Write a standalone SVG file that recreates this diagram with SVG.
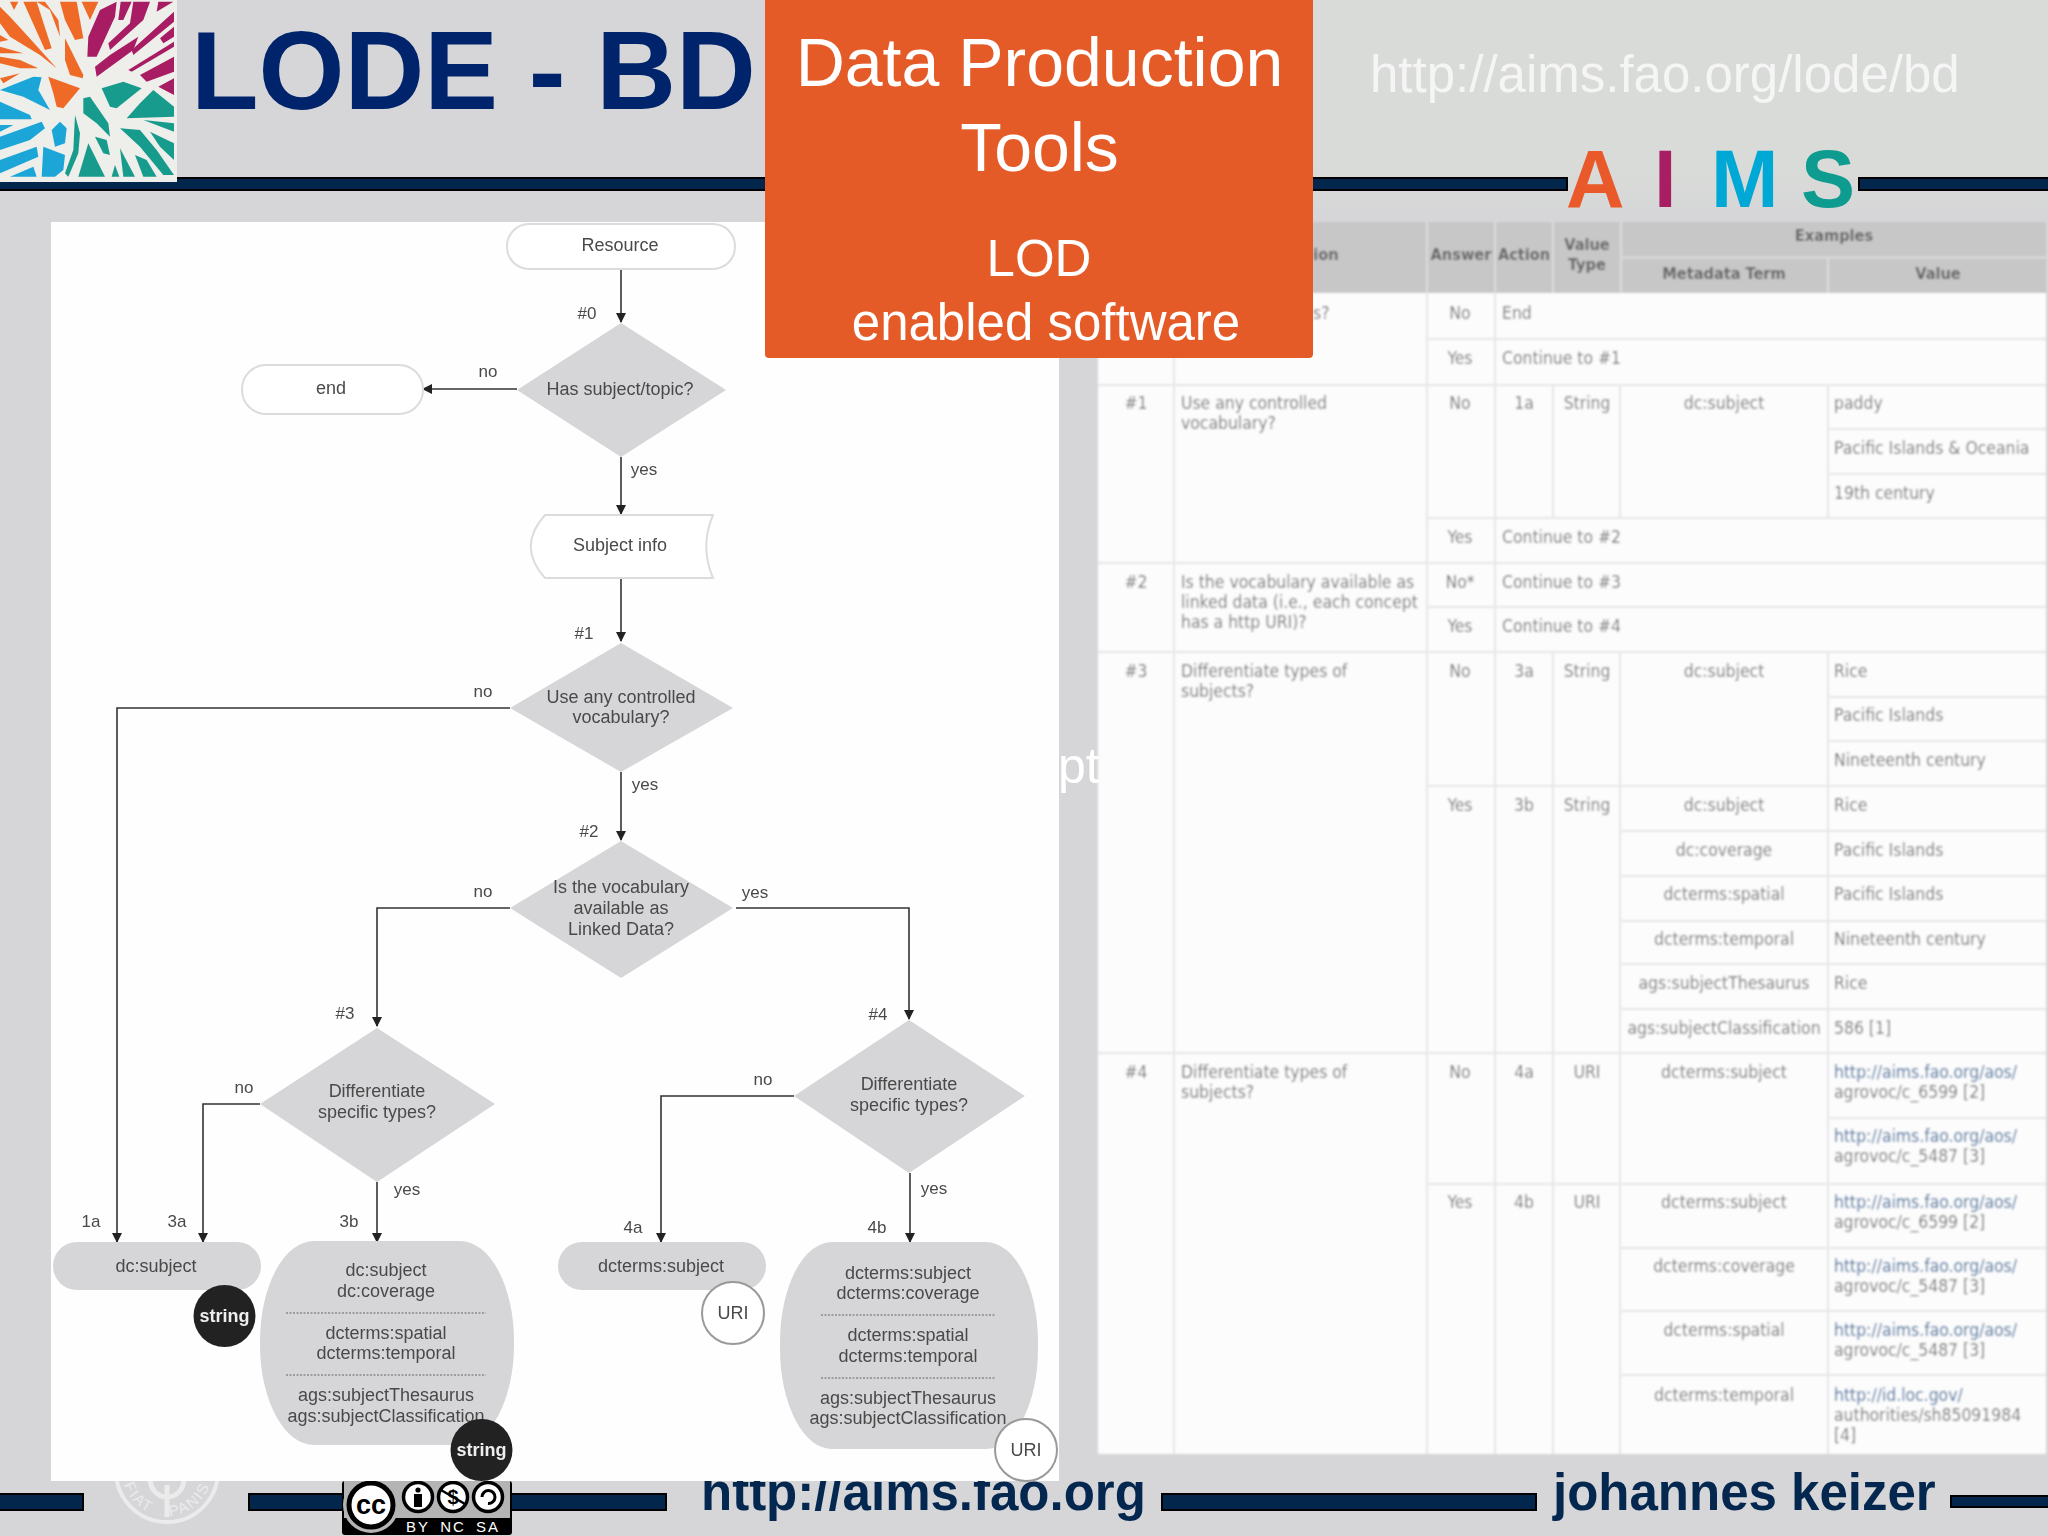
<svg xmlns="http://www.w3.org/2000/svg" width="2048" height="1536" viewBox="0 0 2048 1536">
<defs>
<marker id="ah" markerUnits="userSpaceOnUse" markerWidth="10" markerHeight="12" refX="9" refY="5" orient="auto"><path d="M0,0L10,5L0,10Z" fill="#222"/></marker>
<filter id="soft" x="-2%" y="-2%" width="104%" height="104%"><feGaussianBlur stdDeviation="0.6"/></filter>
<filter id="soft2" x="-2%" y="-2%" width="104%" height="104%"><feGaussianBlur stdDeviation="0.8"/></filter>
<linearGradient id="topbg" x1="0" y1="0" x2="0" y2="1"><stop offset="0" stop-color="#d9dbd8"/><stop offset=".8" stop-color="#d9dbd8"/><stop offset="1" stop-color="#d6d6d8"/></linearGradient>
<path id="ringp" d="M122,1471A45,45 0 0 0 212,1471"/>
</defs>
<style>
text{font-family:"Liberation Sans",Arial,sans-serif}
.bar{fill:#03274c;stroke:#000;stroke-width:2}
.big{fill:#fff;text-anchor:middle}
.foot{fill:#03274f;font-weight:700;font-size:51px}
.ft{font-size:18px;fill:#4a4a4a;text-anchor:middle}
.fl{font-size:17px;fill:#4a4a4a;text-anchor:middle}
.dia{fill:#d6d6d8}
.term{fill:#fff;stroke:#dcdcde;stroke-width:2}
.grey{fill:#d6d6d8}
.sep{stroke:#8a8a8a;stroke-width:1.5;stroke-dasharray:2 1.5;fill:none}
.conn{fill:none;stroke:#333;stroke-width:1.6;marker-end:url(#ah)}
.tl{fill:none;stroke:#e6e6e8;stroke-width:2}
.t{font-family:"DejaVu Sans Condensed","DejaVu Sans",sans-serif;font-size:17.400px;fill:#767676}
.c{text-anchor:middle}
.h{font-family:"DejaVu Sans Condensed","DejaVu Sans",sans-serif;font-size:16.200px;fill:#666;font-weight:700;text-anchor:middle}
.u{fill:#3d6c9a}
.or{fill:#ef6a26}.ma{fill:#a81c63}.te{fill:#179b8c}.bl{fill:#1aa6d8}
</style>
<rect width="2048" height="1536" fill="#d6d6d8"/>
<rect x="1313" width="735" height="215" fill="url(#topbg)"/>

<g id="header-bars">
<rect class="bar" x="-2" y="178" width="770" height="12"/>
<rect class="bar" x="1310" y="178" width="257" height="12"/>
<rect class="bar" x="1859" y="178" width="192" height="12"/>
</g>
<g id="logo">
<rect x="0" y="0" width="177" height="182" fill="#eeeeea"/>
<g transform="scale(.3333)" filter="url(#soft2)">
<g class="or">
<polygon points="30,5 55,5 42,30"/><polygon points="70,5 110,5 155,145 135,150"/><polygon points="110,5 135,5 175,60 180,110 150,30"/><polygon points="180,5 230,5 250,115 225,120 195,60"/><polygon points="245,5 295,5 270,60"/><polygon points="0,20 30,50 85,110 170,205 120,165 30,110 0,70"/><polygon points="0,105 25,120 0,125"/><polygon points="0,140 70,160 0,160"/><polygon points="0,170 60,180 115,205 60,205 0,190"/><polygon points="195,115 250,225 248,235 210,225 195,180"/><polygon points="0,235 60,220 10,250"/><polygon points="145,230 240,265 190,325 170,320 160,280"/>
</g>
<g class="ma">
<polygon points="300,30 350,5 345,50 290,170 262,170 265,110"/><polygon points="362,5 395,5 370,60 355,60"/><polygon points="400,5 450,5 430,60 330,150 325,130 390,70"/><polygon points="475,5 520,5 470,35"/><polygon points="522,35 522,65 400,165 395,150"/><polygon points="522,80 522,110 490,130 480,115"/><polygon points="522,125 522,140 395,215 385,210"/><polygon points="522,170 522,215 440,245 420,225"/><polygon points="522,235 522,285 475,260"/><polygon points="415,110 400,150 290,230 285,200 330,165"/>
</g>
<g class="te">
<polygon points="305,265 370,245 425,265 350,325 330,320"/><polygon points="460,270 522,320 522,350 380,355 420,310"/><polygon points="430,360 522,370 522,395"/><polygon points="450,395 522,430 522,480 480,440"/><polygon points="250,295 270,290 325,370 330,410 290,370 250,340"/><polygon points="285,410 320,420 330,465 310,460"/><polygon points="360,385 420,390 470,450 522,525 490,525 420,440"/><polygon points="360,445 405,530 370,530"/><polygon points="405,465 440,480 470,530 430,530"/><polygon points="265,430 315,530 235,530"/><polygon points="345,495 358,530 335,530"/><polygon points="225,345 240,400 235,460 205,530 195,520 220,450"/>
</g>
<g class="bl">
<polygon points="0,270 100,230 125,232 115,270 150,330 70,290"/><polygon points="0,305 90,345 95,358 0,358"/><polygon points="0,375 40,375 0,395"/><polygon points="0,410 125,365 135,385 90,420 0,450"/><polygon points="0,480 110,440 115,470 0,520"/><polygon points="30,530 100,500 110,530"/><polygon points="130,440 195,465 190,510 165,530 125,530"/><polygon points="155,390 180,365 200,385 195,430 165,440"/>
</g>
</g>
</g>
<text id="title" x="191" y="109" font-size="110.500" font-weight="700" fill="#00246b">LODE - BD</text>
<text id="top-url" x="1370" y="92" font-size="51" fill="#f4f5f4">http://aims.fao.org/lode/bd</text>
<g id="aims" font-size="81" font-weight="700">
<text x="1566" y="207" fill="#e9592a">A</text>
<text x="1654" y="207" fill="#a81e62">I</text>
<text x="1711" y="207" fill="#00a8d6">M</text>
<text x="1801" y="207" fill="#0f9c90">S</text>
</g>
<text id="sliver" x="1058" y="783" font-size="50" fill="#fff">pt</text>

<g id="footer">
<rect class="bar" x="-2" y="1494" width="85" height="16"/>
<rect class="bar" x="249" y="1494" width="417" height="16"/>
<rect class="bar" x="1162" y="1494" width="374" height="16"/>
<rect class="bar" x="1951" y="1496" width="99" height="11"/>
<text class="foot" x="701" y="1510">http://aims.fao.org</text>
<text class="foot" x="1553" y="1510">johannes keizer</text>
<g id="fao-seal" fill="none" stroke="#ebebeb">
<circle cx="167" cy="1471" r="51" stroke-width="4"/>
<path d="M167,1485V1517M150,1478C150,1492 160,1497 167,1497C174,1497 184,1492 184,1478" stroke-width="5"/>
<text font-size="15" fill="#ebebeb" stroke="none" letter-spacing="2" word-spacing="14" text-anchor="middle"><textPath href="#ringp" startOffset="50%">FIAT PANIS</textPath></text>
</g>
<g id="cc-badge">
<rect x="342" y="1481" width="170" height="54" rx="3" fill="#000"/>
<rect x="344" y="1481" width="166" height="37" fill="#b4b4b4"/>
<circle cx="371" cy="1505" r="28" fill="#b4b4b4"/>
<circle cx="371" cy="1505" r="22" fill="#fff" stroke="#000" stroke-width="5"/>
<text x="371" y="1514" font-size="27" font-weight="700" fill="#000" text-anchor="middle">cc</text>
<g fill="#fff" stroke="#000" stroke-width="3.500">
<circle cx="418" cy="1497" r="14.500"/><circle cx="453" cy="1497" r="14.500"/><circle cx="488" cy="1497" r="14.500"/>
</g>
<circle cx="418" cy="1490" r="2.600" fill="#000"/><rect x="414" y="1494" width="8" height="13" fill="#000"/>
<text x="453" y="1504" font-size="20" font-weight="700" fill="#000" text-anchor="middle">$</text>
<path d="M441,1490L465,1504" stroke="#000" stroke-width="2.500"/>
<path d="M482,1497A6.500,6.500 0 1 1 488,1503.500" fill="none" stroke="#000" stroke-width="3"/>
<text x="418" y="1532" font-family="Liberation Mono,monospace" font-size="15" letter-spacing="2" fill="#fff" text-anchor="middle">BY</text>
<text x="453" y="1532" font-family="Liberation Mono,monospace" font-size="15" letter-spacing="2" fill="#fff" text-anchor="middle">NC</text>
<text x="488" y="1532" font-family="Liberation Mono,monospace" font-size="15" letter-spacing="2" fill="#fff" text-anchor="middle">SA</text>
</g>
</g>

<rect id="flow-panel" x="51" y="222" width="1008" height="1259" fill="#fefefe"/>
<g id="flowchart" filter="url(#soft)">
<g id="connectors">
<path class="conn" d="M621,269V322"/>
<path class="conn" d="M517,389H423"/>
<path class="conn" d="M621,457V514"/>
<path class="conn" d="M621,578V641"/>
<path class="conn" d="M510,708H117V1242"/>
<path class="conn" d="M621,772V840"/>
<path class="conn" d="M510,908H377V1026"/>
<path class="conn" d="M736,908H909V1019"/>
<path class="conn" d="M260,1104H203V1242"/>
<path class="conn" d="M377,1182V1242"/>
<path class="conn" d="M794,1096H661V1242"/>
<path class="conn" d="M910,1173V1242"/>
</g>
<g id="edge-labels">
<text class="fl" x="587" y="319">#0</text>
<text class="fl" x="488" y="377">no</text>
<text class="fl" x="644" y="475">yes</text>
<text class="fl" x="584" y="639">#1</text>
<text class="fl" x="483" y="697">no</text>
<text class="fl" x="645" y="790">yes</text>
<text class="fl" x="589" y="837">#2</text>
<text class="fl" x="483" y="897">no</text>
<text class="fl" x="755" y="898">yes</text>
<text class="fl" x="345" y="1019">#3</text>
<text class="fl" x="878" y="1020">#4</text>
<text class="fl" x="244" y="1093">no</text>
<text class="fl" x="763" y="1085">no</text>
<text class="fl" x="407" y="1195">yes</text>
<text class="fl" x="934" y="1194">yes</text>
<text class="fl" x="91" y="1227">1a</text>
<text class="fl" x="177" y="1227">3a</text>
<text class="fl" x="349" y="1227">3b</text>
<text class="fl" x="633" y="1233">4a</text>
<text class="fl" x="877" y="1233">4b</text>
</g>
<g id="n-resource"><rect class="term" x="507" y="224" width="228" height="45" rx="22"/><text class="ft" x="620" y="251">Resource</text></g>
<g id="n-has-subject"><polygon class="dia" points="621,323 726,390 621,457 517,390"/><text class="ft" x="620" y="395">Has subject/topic?</text></g>
<g id="n-end"><rect class="term" x="242" y="365" width="181" height="49" rx="24"/><text class="ft" x="331" y="394">end</text></g>
<g id="n-subject-info"><path class="term" d="M545,515H713C704,536 704,557 713,578H545C526,557 526,536 545,515Z"/><text class="ft" x="620" y="551">Subject info</text></g>
<g id="n-controlled"><polygon class="dia" points="621,643 733,708 621,772 510,708"/><text class="ft" x="621" y="703">Use any controlled</text><text class="ft" x="621" y="723">vocabulary?</text></g>
<g id="n-linked"><polygon class="dia" points="621,841 733,908 621,978 510,908"/><text class="ft" x="621" y="893">Is the vocabulary</text><text class="ft" x="621" y="914">available as</text><text class="ft" x="621" y="935">Linked Data?</text></g>
<g id="n-types3"><polygon class="dia" points="377,1028 495,1104 377,1182 260,1104"/><text class="ft" x="377" y="1097">Differentiate</text><text class="ft" x="377" y="1118">specific types?</text></g>
<g id="n-types4"><polygon class="dia" points="909,1020 1025,1096 909,1173 794,1096"/><text class="ft" x="909" y="1090">Differentiate</text><text class="ft" x="909" y="1111">specific types?</text></g>
<g id="n-1a"><rect class="grey" x="53" y="1242" width="208" height="48" rx="24"/><text class="ft" x="156" y="1272">dc:subject</text></g>
<g id="n-3b"><rect class="grey" x="260" y="1241" width="254" height="204" rx="54" ry="100"/>
<text class="ft" x="386" y="1276">dc:subject</text><text class="ft" x="386" y="1297">dc:coverage</text><path class="sep" d="M286,1313H486"/><text class="ft" x="386" y="1339">dcterms:spatial</text><text class="ft" x="386" y="1359">dcterms:temporal</text><path class="sep" d="M286,1375H486"/><text class="ft" x="386" y="1401">ags:subjectThesaurus</text><text class="ft" x="386" y="1422">ags:subjectClassification</text></g>
<g id="n-4a"><rect class="grey" x="558" y="1242" width="208" height="48" rx="24"/><text class="ft" x="661" y="1272">dcterms:subject</text></g>
<g id="n-4b"><rect class="grey" x="780" y="1242" width="258" height="207" rx="52" ry="100"/>
<text class="ft" x="908" y="1279">dcterms:subject</text><text class="ft" x="908" y="1299">dcterms:coverage</text><path class="sep" d="M821,1315H996"/><text class="ft" x="908" y="1341">dcterms:spatial</text><text class="ft" x="908" y="1362">dcterms:temporal</text><path class="sep" d="M821,1378H996"/><text class="ft" x="908" y="1404">ags:subjectThesaurus</text><text class="ft" x="908" y="1424">ags:subjectClassification</text></g>
<g id="n-string1"><circle cx="224.500" cy="1316" r="31" fill="#222"/><text class="ft" x="224.500" y="1322" style="fill:#eee;font-weight:700">string</text></g>
<g id="n-string2"><circle cx="481.500" cy="1450" r="31" fill="#222"/><text class="ft" x="481.500" y="1456" style="fill:#eee;font-weight:700">string</text></g>
<g id="n-uri1"><circle cx="733" cy="1313" r="31" fill="#fff" stroke="#999" stroke-width="2"/><text class="ft" x="733" y="1319">URI</text></g>
<g id="n-uri2"><circle cx="1026" cy="1450" r="31" fill="#fff" stroke="#999" stroke-width="2"/><text class="ft" x="1026" y="1456">URI</text></g>
</g>

<g id="table" filter="url(#soft2)">
<rect x="1098" y="293" width="948" height="1161" fill="#fcfcfd"/>
<rect x="1098" y="222" width="948" height="71" fill="#c7c7c8"/>
<path d="M1427,222V293M1495,222V293M1553,222V293M1621,222V293M1621,257.500H2046M1828,257V293" fill="none" stroke="#dcdcdd" stroke-width="2"/>
<path class="tl" d="M1174,293V1454M1427,293V1454M1495,293V1454M1553,385V518M1553,652V1454M1620,385V518M1620,652V1454M1828,385V518M1828,652V1454M1427,339H2046M1098,385H2046M1828,429H2046M1828,474H2046M1427,518H2046M1098,563H2046M1427,607H2046M1098,652H2046M1828,697H2046M1828,741H2046M1427,786H2046M1620,831H2046M1620,876H2046M1620,921H2046M1620,964H2046M1620,1009H2046M1098,1053H2046M1828,1118H2046M1427,1184H2046M1620,1248H2046M1620,1311H2046M1620,1375H2046"/>
<text class="h" x="1461" y="260">Answer</text><text class="h" x="1524" y="260">Action</text><text class="h" x="1587" y="250">Value</text><text class="h" x="1587" y="270">Type</text><text class="h" x="1834" y="241">Examples</text><text class="h" x="1724" y="279">Metadata Term</text><text class="h" x="1938" y="279">Value</text>
<text class="h" x="1326" y="260">ion</text>
<g class="t">
<text class="t" x="1313" y="319">s?</text>
<text class="t c" x="1460" y="319">No</text><text class="t" x="1502" y="319">End</text>
<text class="t c" x="1460" y="364">Yes</text><text class="t" x="1502" y="364">Continue to #1</text>
<text class="t c" x="1136" y="409">#1</text><text class="t" x="1181" y="409">Use any controlled</text><text class="t" x="1181" y="429">vocabulary?</text>
<text class="t c" x="1460" y="409">No</text><text class="t c" x="1524" y="409">1a</text><text class="t c" x="1587" y="409">String</text><text class="t c" x="1724" y="409">dc:subject</text><text class="t" x="1834" y="409">paddy</text>
<text class="t" x="1834" y="454">Pacific Islands &amp; Oceania</text>
<text class="t" x="1834" y="499">19th century</text>
<text class="t c" x="1460" y="543">Yes</text><text class="t" x="1502" y="543">Continue to #2</text>
<text class="t c" x="1136" y="588">#2</text><text class="t" x="1181" y="588">Is the vocabulary available as</text><text class="t" x="1181" y="608">linked data (i.e., each concept</text><text class="t" x="1181" y="628">has a http URI)?</text>
<text class="t c" x="1460" y="588">No*</text><text class="t" x="1502" y="588">Continue to #3</text>
<text class="t c" x="1460" y="632">Yes</text><text class="t" x="1502" y="632">Continue to #4</text>
<text class="t c" x="1136" y="677">#3</text><text class="t" x="1181" y="677">Differentiate types of</text><text class="t" x="1181" y="697">subjects?</text>
<text class="t c" x="1460" y="677">No</text><text class="t c" x="1524" y="677">3a</text><text class="t c" x="1587" y="677">String</text><text class="t c" x="1724" y="677">dc:subject</text><text class="t" x="1834" y="677">Rice</text>
<text class="t" x="1834" y="721">Pacific Islands</text>
<text class="t" x="1834" y="766">Nineteenth century</text>
<text class="t c" x="1460" y="811">Yes</text><text class="t c" x="1524" y="811">3b</text><text class="t c" x="1587" y="811">String</text><text class="t c" x="1724" y="811">dc:subject</text><text class="t" x="1834" y="811">Rice</text>
<text class="t c" x="1724" y="856">dc:coverage</text><text class="t" x="1834" y="856">Pacific Islands</text>
<text class="t c" x="1724" y="900">dcterms:spatial</text><text class="t" x="1834" y="900">Pacific Islands</text>
<text class="t c" x="1724" y="945">dcterms:temporal</text><text class="t" x="1834" y="945">Nineteenth century</text>
<text class="t c" x="1724" y="989">ags:subjectThesaurus</text><text class="t" x="1834" y="989">Rice</text>
<text class="t c" x="1724" y="1034">ags:subjectClassification</text><text class="t" x="1834" y="1034">586 [1]</text>
<text class="t c" x="1136" y="1078">#4</text><text class="t" x="1181" y="1078">Differentiate types of</text><text class="t" x="1181" y="1098">subjects?</text>
<text class="t c" x="1460" y="1078">No</text><text class="t c" x="1524" y="1078">4a</text><text class="t c" x="1587" y="1078">URI</text><text class="t c" x="1724" y="1078">dcterms:subject</text>
<text class="t u" x="1834" y="1078">http://aims.fao.org/aos/</text><text class="t" x="1834" y="1098">agrovoc/c_6599 [2]</text>
<text class="t u" x="1834" y="1142">http://aims.fao.org/aos/</text><text class="t" x="1834" y="1162">agrovoc/c_5487 [3]</text>
<text class="t c" x="1460" y="1208">Yes</text><text class="t c" x="1524" y="1208">4b</text><text class="t c" x="1587" y="1208">URI</text><text class="t c" x="1724" y="1208">dcterms:subject</text>
<text class="t u" x="1834" y="1208">http://aims.fao.org/aos/</text><text class="t" x="1834" y="1228">agrovoc/c_6599 [2]</text>
<text class="t c" x="1724" y="1272">dcterms:coverage</text><text class="t u" x="1834" y="1272">http://aims.fao.org/aos/</text><text class="t" x="1834" y="1292">agrovoc/c_5487 [3]</text>
<text class="t c" x="1724" y="1336">dcterms:spatial</text><text class="t u" x="1834" y="1336">http://aims.fao.org/aos/</text><text class="t" x="1834" y="1356">agrovoc/c_5487 [3]</text>
<text class="t c" x="1724" y="1401">dcterms:temporal</text><text class="t u" x="1834" y="1401">http://id.loc.gov/</text><text class="t" x="1834" y="1421">authorities/sh85091984</text><text class="t" x="1834" y="1441">[4]</text>
</g>
</g>

<g id="orange-box">
<path d="M765,0H1313V354a4,4 0 0 1 -4,4H769a4,4 0 0 1 -4,-4Z" fill="#e55b27"/>
<text class="big" x="1039.500" y="86" font-size="68">Data Production</text>
<text class="big" x="1039.500" y="171" font-size="68">Tools</text>
<text class="big" x="1039" y="276" font-size="51">LOD</text>
<text class="big" x="1046" y="340" font-size="51">enabled software</text>
</g>
</svg>
